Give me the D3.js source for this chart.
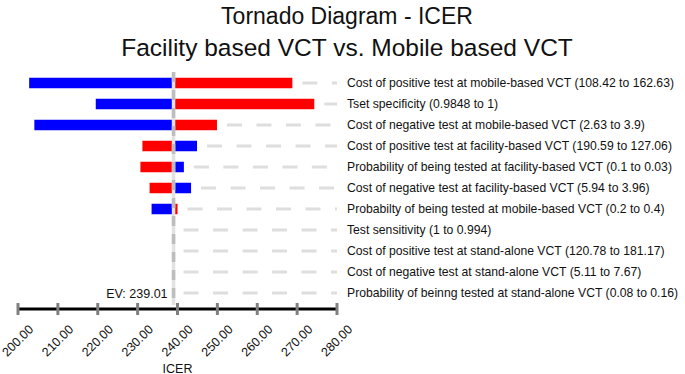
<!DOCTYPE html>
<html>
<head>
<meta charset="utf-8">
<script src="https://cdn.jsdelivr.net/npm/d3@7"></script>
<style>
  body { margin: 0; background: #fff; }
  svg text { font-family: "Liberation Sans", Arial, sans-serif; fill: #111; }
</style>
</head>
<body>
<div id="chart"></div>
<script>
// ------ Data ---------------//
var parameters = [
  "Cost of positive test at mobile-based VCT (108.42 to 162.63)",
  "Tset specificity (0.9848 to 1)",
  "Cost of negative test at mobile-based VCT (2.63 to 3.9)",
  "Cost of positive test at facility-based VCT (190.59 to 127.06)",
  "Probability of being tested at facility-based VCT (0.1 to 0.03)",
  "Cost of negative test at facility-based VCT (5.94 to 3.96)",
  "Probabilty of being tested at mobile-based VCT (0.2 to 0.4)",
  "Test sensitivity (1 to 0.994)",
  "Cost of positive test at stand-alone VCT (120.78 to 181.17)",
  "Cost of negative test at stand-alone VCT (5.11 to 7.67)",
  "Probability of beinng tested at stand-alone VCT (0.08 to 0.16)"
];
// ICER at the low input value (blue) and at the high input value (red)
var lowResult  = [202.8, 219.5, 204.1, 244.9, 241.6, 243.4, 233.5, 239.01, 239.01, 239.01, 239.01];
var highResult = [268.8, 274.3, 249.9, 231.2, 230.7, 233.0, 240.0, 239.01, 239.01, 239.01, 239.01];
var baseValue = 239.01;
var xTicks = [200, 210, 220, 230, 240, 250, 260, 270, 280];

var width = 685, height = 374;

var svg = d3.select("#chart").append("svg")
  .attr("width", width)
  .attr("height", height);

// ------ Title ---------------//
var title = svg.append("g").attr("class", "ChartHeading");
title.append("text").attr("x", 347).attr("y", 23.5)
  .attr("text-anchor", "middle").style("font-size", "23px")
  .text("Tornado Diagram - ICER");
title.append("text").attr("x", 347).attr("y", 56)
  .attr("text-anchor", "middle").style("font-size", "24.5px")
  .text("Facility based VCT vs. Mobile based VCT");

// ------ Scales ---------------//
var x = d3.scaleLinear().domain([200, 280]).range([18, 337]);
var y = d3.scaleBand()
  .domain(d3.range(parameters.length))
  .range([72.5, 303.5])
  .paddingInner(0.5).paddingOuter(0.25);

var rows = parameters.map(function(p, i) {
  return { name: p, low: lowResult[i], high: highResult[i] };
});

// ------ Dashed guide lines ---------------//
svg.append("g").selectAll("line").data(rows).enter().append("line")
  .attr("x1", function(d) { return x(Math.max(d.low, d.high, baseValue)) + 10; })
  .attr("x2", 337)
  .attr("y1", function(d, i) { return y(i) + y.bandwidth() / 2; })
  .attr("y2", function(d, i) { return y(i) + y.bandwidth() / 2; })
  .attr("stroke", "#dedede")
  .attr("stroke-width", 3)
  .attr("stroke-dasharray", "15,14.5");

// ------ Bars ---------------//
function drawBars(key, colour) {
  svg.append("g").selectAll("rect").data(rows.filter(function(d) { return d[key] !== baseValue; }))
    .enter().append("rect")
    .attr("x", function(d) { return x(Math.min(d[key], baseValue)); })
    .attr("width", function(d) { return Math.abs(x(d[key]) - x(baseValue)); })
    .attr("y", function(d) { return y(rows.indexOf(d)); })
    .attr("height", y.bandwidth())
    .attr("fill", colour);
}
drawBars("low", "#0000ff");
drawBars("high", "#ff0000");

// ------ EV line ---------------//
svg.append("line")
  .attr("x1", x(baseValue)).attr("x2", x(baseValue))
  .attr("y1", 72).attr("y2", 305)
  .attr("stroke", "#e2e2e2").attr("stroke-width", 3.5);
svg.append("line")
  .attr("x1", x(baseValue)).attr("x2", x(baseValue))
  .attr("y1", 72).attr("y2", 305)
  .attr("stroke", "#bdbdbd").attr("stroke-width", 3.5)
  .attr("stroke-dasharray", "10,8");

svg.append("text")
  .attr("x", x(baseValue) - 6).attr("y", 297.5)
  .attr("text-anchor", "end").style("font-size", "12.5px")
  .text("EV: " + baseValue.toFixed(2));

// ------ Parameter labels ---------------//
svg.append("g").selectAll("text").data(rows).enter().append("text")
  .attr("x", 347)
  .attr("y", function(d, i) { return y(i) + y.bandwidth() / 2; })
  .attr("dy", "0.35em")
  .style("font-size", "12.2px")
  .text(function(d) { return d.name; });

// ------ Axis ---------------//
var axis = svg.append("g").attr("transform", "translate(0,309)");
axis.append("line")
  .attr("x1", x(200)).attr("x2", x(280))
  .attr("stroke", "#000").attr("stroke-width", 3);
axis.selectAll(".tick").data(xTicks).enter().append("line")
  .attr("x1", function(d) { return x(d); }).attr("x2", function(d) { return x(d); })
  .attr("y1", -6).attr("y2", 6)
  .attr("stroke", "#808080").attr("stroke-width", 3);
axis.selectAll(".tickLabel").data(xTicks).enter().append("text")
  .attr("transform", function(d) { return "translate(" + (x(d) + 10) + ",15) rotate(-45)"; })
  .attr("text-anchor", "end")
  .attr("dy", "0.7em")
  .style("font-size", "12.5px")
  .text(function(d) { return d.toFixed(2); });

svg.append("text")
  .attr("x", (x(200) + x(280)) / 2).attr("y", 372.5)
  .attr("text-anchor", "middle").style("font-size", "12.5px")
  .text("ICER");
</script>
</body>
</html>
